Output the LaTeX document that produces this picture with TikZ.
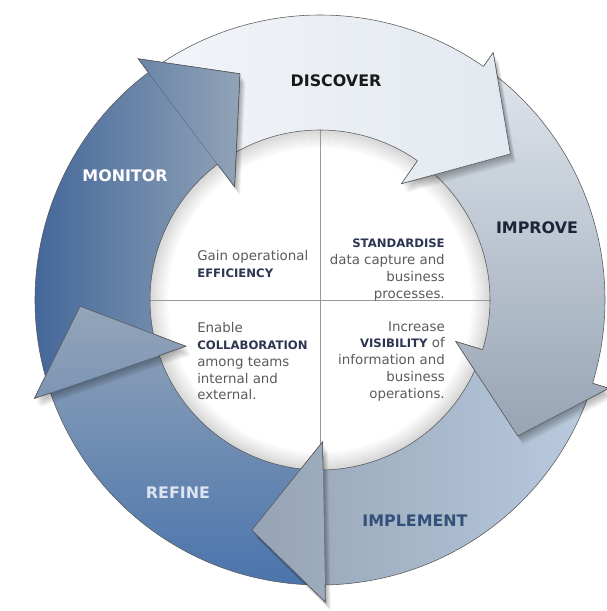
\documentclass[tikz,border=0pt]{standalone}
\usepackage{fontspec}
\setmainfont{DejaVu Sans}
\usetikzlibrary{positioning}

\definecolor{dsA}{HTML}{F1F4F8}
\definecolor{dsB}{HTML}{E3E9F0}
\definecolor{imA}{HTML}{DDE3EB}
\definecolor{imB}{HTML}{97A4B4}
\definecolor{ipA}{HTML}{95A3B4}
\definecolor{ipB}{HTML}{B9CADF}
\definecolor{rfA}{HTML}{94A5B9}
\definecolor{rfB}{HTML}{4A74AC}
\definecolor{moA}{HTML}{3C6197}
\definecolor{moB}{HTML}{91A3B7}
\definecolor{txtgray}{HTML}{5A5A5A}
\definecolor{kwnavy}{HTML}{2C3650}

% one arrow of the ring, #1 = angle of the head base
\newcommand{\ringarrow}[1]{(#1+69:285) arc[start angle=#1+69, end angle=#1, radius=285]
  -- (#1:302) -- (#1-17.5:240) -- (#1:142) -- (#1:170)
  arc[start angle=#1, end angle=#1+69, radius=170] -- cycle}
\newcommand{\headtri}[1]{(#1:302) -- (#1-17.5:240) -- (#1:142) -- cycle}
\newcommand{\headline}[1]{(#1:285) -- (#1:302) -- (#1-17.5:240) -- (#1:142) -- (#1:170)}
% redraw a head on top of the next arrow
\newcommand{\headfill}[2]{\begin{scope}\clip \headtri{#1}; \shade[#2] \ringarrow{#1}; \end{scope}
  \draw[rim] \headline{#1};}
\newcommand{\kw}[1]{{\fontsize{8.3}{12}\selectfont\bfseries\color{kwnavy}#1}}

\begin{document}
\begin{tikzpicture}[x=0.025cm, y=0.025cm,
  rim/.style={draw=black!65, line width=0.4pt},
  divider/.style={draw=black!40, line width=0.5pt},
  phase/.style={font=\fontsize{11.3}{13}\selectfont\bfseries},
  quad/.style={font=\fontsize{9.5}{12}\selectfont, text=txtgray, inner sep=0pt},
  discover/.style={left color=dsA, right color=dsB},
  improve/.style={top color=imA, bottom color=imB},
  implement/.style={left color=ipA, right color=ipB},
  refine/.style={top color=rfA, bottom color=rfB},
  monitor/.style={left color=moA, right color=moB}]
\useasboundingbox (-320,-311) rectangle (286,300);

% centre
\foreach \i in {0,...,9}
  \draw[black, opacity={0.16*(10-\i)/10}, line width=1.45pt] (0,0) circle (171-\i*2);
\draw[divider] (90:172) -- (270:172);
\draw[divider] (180:172) -- (0:172);

% arrows
\shade[rim,discover] \ringarrow{55};
\shade[rim,improve] \ringarrow{-17};
\shade[rim,implement] \ringarrow{-89};
\shade[rim,refine] \ringarrow{199};
\shade[rim,monitor] \ringarrow{127};

% shadows of the heads
\foreach \a in {55,-17,-89,199,127}
  \foreach \s in {1,...,8}
    \fill[black, opacity=.045, shift={(\s*0.7,-\s*1.1)}] \headtri{\a};

\headfill{55}{discover}
\headfill{-17}{improve}
\headfill{-89}{implement}
\headfill{199}{refine}
\headfill{127}{monitor}

% labels
\node[phase, text=black!90] (discover) at (16,219) {DISCOVER};
\node[phase, text={rgb,255:red,28;green,37;blue,56}] (improve) at (217,72) {IMPROVE};
\node[phase, text={rgb,255:red,52;green,80;blue,122}] (implement) at (95,-221) {IMPLEMENT};
\node[phase, text={rgb,255:red,221;green,228;blue,240}] (refine) at (-142,-193) {REFINE};
\node[phase, text=white] (monitor) at (-195,124) {MONITOR};

\node[quad, align=left, anchor=north west] (efficiency) at (-123,50)
  {Gain operational\\\kw{EFFICIENCY}};
\node[quad, align=right, anchor=north east] (standardise) at (125,61)
  {\kw{STANDARDISE}\\data capture and\\business\\processes.};
\node[quad, align=left, anchor=north west] (collab) at (-123,-22)
  {Enable\\\kw{COLLABORATION}\\among teams\\internal and\\external.};
\node[quad, align=right, anchor=north east] (visibility) at (125,-21)
  {Increase\\\kw{VISIBILITY} of\\information and\\business\\operations.};
\end{tikzpicture}
\end{document}
